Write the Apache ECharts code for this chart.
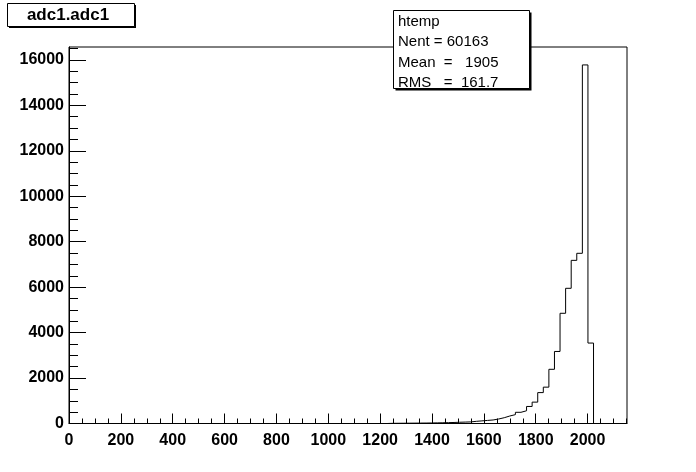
<!DOCTYPE html>
<html>
<head>
<meta charset="utf-8">
<script src="https://cdn.jsdelivr.net/npm/echarts@6/dist/echarts.min.js"></script>
<style>
html,body{margin:0;padding:0;background:#fff;}
#chart{width:696px;height:472px;}
</style>
</head>
<body>
<div id="chart"></div>
<script>
// Histogram definition (ROOT htemp): 100 bins over [xMin, xMax]
const histName = 'htemp';
const titleText = 'adc1.adc1';
const xMin = 0;
const xMax = 2152;
const nBins = 100;
const firstBin = 57; // index of first non-empty bin
const counts = [8, 10, 12, 14, 16, 18, 20, 24, 28, 32, 38, 45,
  55, 62, 70, 95, 115, 135, 155, 198, 255, 330, 390, 493, 560, 750,
  940, 1360, 1600, 2385, 3170, 4850, 5950, 7180, 7490, 15780, 3540];
const yMax = 16569;
const xMajorTicks = [0, 200, 400, 600, 800, 1000, 1200, 1400, 1600, 1800, 2000];
const yMajorTicks = [0, 2000, 4000, 6000, 8000, 10000, 12000, 14000, 16000];
const xMinorStep = 50;
const yMinorStep = 500;
const statsLines = ['htemp', 'Nent = 60163', 'Mean  =   1905', 'RMS   =  161.7'];

const binW = (xMax - xMin) / nBins;
const stepData = [];
for (let i = 0; i < nBins; i++) {
  const k = i - firstBin;
  const v = (k >= 0 && k < counts.length) ? counts[k] : 0;
  stepData.push([xMin + i * binW, v]);
}
stepData.push([xMax, 0]);

function minorList(max, step, majors) {
  const out = [];
  for (let v = step; v < max; v += step) if (majors.indexOf(v) < 0) out.push(v);
  return out;
}
const xMinor = minorList(xMax, xMinorStep, xMajorTicks);
const yMinor = minorList(yMax, yMinorStep, yMajorTicks);

const FONT = 'Liberation Sans';
const chart = echarts.init(document.getElementById('chart'), null, {renderer: 'canvas'});

const statsTexts = statsLines.map((t, i) => ({
  type: 'text', z: 102,
  style: {text: t, x: 398, y: 22 + i * 20.3, font: '15px "' + FONT + '"', fill: '#000',
          align: 'left', verticalAlign: 'middle'}
}));

const labelStyle = {color: '#000', fontFamily: FONT, fontWeight: 'bold', fontSize: 16};
const tickLine = {color: '#000', width: 1};

chart.setOption({
  animation: false,
  backgroundColor: '#fff',
  grid: {left: 69, right: 69, top: 47, bottom: 48.5, show: true,
         borderColor: '#000', borderWidth: 1, backgroundColor: 'transparent'},
  xAxis: [{
    type: 'value', min: xMin, max: xMax, interval: 200,
    axisLine: {show: true, onZero: false, lineStyle: tickLine},
    axisTick: {show: true, inside: true, length: 10, customValues: xMajorTicks, lineStyle: tickLine},
    splitLine: {show: false},
    axisLabel: Object.assign({customValues: xMajorTicks, margin: 9, formatter: v => String(v)}, labelStyle)
  }, {
    type: 'value', min: xMin, max: xMax, position: 'bottom',
    axisLine: {show: false, onZero: false},
    axisTick: {show: true, inside: true, length: 5, customValues: xMinor, lineStyle: tickLine},
    splitLine: {show: false},
    axisLabel: {show: false}
  }],
  yAxis: [{
    type: 'value', min: 0, max: yMax, interval: 2000,
    axisLine: {show: true, onZero: false, lineStyle: tickLine},
    axisTick: {show: true, inside: true, length: 17, customValues: yMajorTicks, lineStyle: tickLine},
    splitLine: {show: false},
    axisLabel: Object.assign({customValues: yMajorTicks, margin: 5, formatter: v => String(v)}, labelStyle)
  }, {
    type: 'value', min: 0, max: yMax, position: 'left',
    axisLine: {show: false, onZero: false},
    axisTick: {show: true, inside: true, length: 9, customValues: yMinor, lineStyle: tickLine},
    splitLine: {show: false},
    axisLabel: {show: false}
  }],
  series: [{
    name: histName, type: 'line', step: 'end', data: stepData,
    xAxisIndex: 0, yAxisIndex: 0,
    showSymbol: false, symbol: 'none',
    lineStyle: {color: '#000', width: 1}
  }],
  graphic: [
    // title box with shadow
    {type: 'rect', shape: {x: 9, y: 5, width: 127, height: 23}, style: {fill: '#000'}, z: 100},
    {type: 'rect', shape: {x: 7.5, y: 3.5, width: 127, height: 23}, style: {fill: '#fff', stroke: '#000', lineWidth: 1}, z: 101},
    {type: 'text', z: 102,
     style: {text: titleText, x: 68, y: 15.5, font: 'bold 17px "' + FONT + '"', fill: '#000', align: 'center', verticalAlign: 'middle'}},
    // stats box with shadow
    {type: 'rect', shape: {x: 395.5, y: 12.5, width: 136, height: 78}, style: {fill: '#000'}, z: 100},
    {type: 'rect', shape: {x: 393.5, y: 10.5, width: 136, height: 78}, style: {fill: '#fff', stroke: '#000', lineWidth: 1}, z: 101}
  ].concat(statsTexts)
});
</script>
</body>
</html>
